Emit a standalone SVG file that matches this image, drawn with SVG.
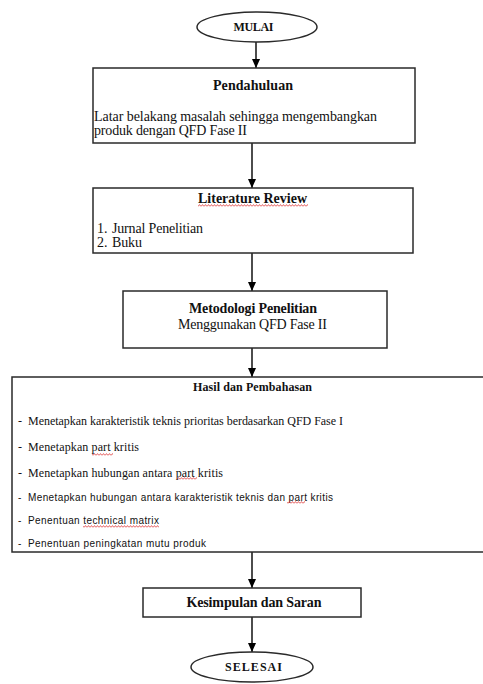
<svg xmlns="http://www.w3.org/2000/svg" width="483" height="684" viewBox="0 0 483 684">
<style>
.box{fill:#fff;stroke:#2a2a2a;stroke-width:1.5}
.t{font-family:"Liberation Serif","Times New Roman",serif;fill:#111}
.s{font-family:"Liberation Sans",Arial,sans-serif;fill:#111}
.b{font-weight:bold}
.c{text-anchor:middle}
.conn{stroke:#000;stroke-width:1.4;fill:none;marker-end:url(#ah)}
</style>
<defs>
<marker id="ah" viewBox="0 0 10 9" markerUnits="userSpaceOnUse" markerWidth="9" markerHeight="9" refX="10" refY="4.5" orient="auto">
<path d="M0,0 L10,4.5 L0,9 z" fill="#000"/>
</marker>
<pattern id="wavy" patternUnits="userSpaceOnUse" x="0" y="0" width="3" height="3">
<path d="M0,2.5 L1.5,0.6 L3,2.5" fill="none" stroke="#d81e1e" stroke-width="0.7"/>
</pattern>
</defs>
<rect width="483" height="684" fill="#fff"/>

<g id="connectors">
<line class="conn" x1="256" y1="42" x2="256" y2="68"/>
<line class="conn" x1="252" y1="143" x2="252" y2="188"/>
<line class="conn" x1="252" y1="253" x2="252" y2="291"/>
<line class="conn" x1="252" y1="348" x2="252" y2="377"/>
<line class="conn" x1="252" y1="552" x2="252" y2="588"/>
<line class="conn" x1="252" y1="617" x2="252" y2="652"/>
</g>

<g id="mulai">
<ellipse cx="257" cy="27" rx="60" ry="15" class="box"/>
<text x="253.5" y="31" class="t b c" font-size="12" textLength="40">MULAI</text>
</g>

<g id="pendahuluan">
<rect x="93" y="68" width="322" height="75" class="box"/>
<text x="253" y="90" class="t b c" font-size="14" textLength="80">Pendahuluan</text>
<text x="94" y="121" class="t" font-size="14" textLength="283">Latar belakang masalah sehingga mengembangkan</text>
<text x="94" y="135" class="t" font-size="14" textLength="153">produk dengan QFD Fase II</text>
</g>

<g id="literature">
<rect x="93" y="188" width="320" height="65" class="box"/>
<text x="252.5" y="203" class="t b c" font-size="14" textLength="109">Literature Review</text>
<rect x="198" y="204" width="110" height="3" fill="url(#wavy)"/>
<text class="t" font-size="14" y="233"><tspan x="97">1.</tspan><tspan x="112" textLength="91">Jurnal Penelitian</tspan></text>
<text class="t" font-size="14" y="247"><tspan x="97">2.</tspan><tspan x="112" textLength="30">Buku</tspan></text>
</g>

<g id="metodologi">
<rect x="123" y="291" width="264" height="57" class="box"/>
<text x="253" y="313" class="t b c" font-size="14" textLength="128">Metodologi Penelitian</text>
<text x="252.5" y="329" class="t c" font-size="14" textLength="149">Menggunakan QFD Fase II</text>
</g>

<g id="hasil">
<rect x="12" y="377" width="480" height="175" class="box"/>
<text x="252.5" y="391" class="t b c" font-size="12" textLength="119">Hasil dan Pembahasan</text>
<text x="18" y="425" class="t" font-size="12">-</text>
<text x="28" y="425" class="t" font-size="12" textLength="315">Menetapkan karakteristik teknis prioritas berdasarkan QFD Fase I</text>
<text x="18" y="451" class="t" font-size="12">-</text>
<text x="28" y="451" class="t" font-size="12" textLength="111">Menetapkan part kritis</text>
<rect x="92" y="453" width="21" height="3" fill="url(#wavy)"/>
<text x="18" y="477" class="t" font-size="12">-</text>
<text x="28" y="477" class="t" font-size="12" textLength="195">Menetapkan hubungan antara part kritis</text>
<rect x="177" y="477" width="20" height="3" fill="url(#wavy)"/>
<text x="18" y="501" class="s" font-size="10">-</text>
<text x="28" y="501" class="s" font-size="10" textLength="305">Menetapkan hubungan antara karakteristik teknis dan part kritis</text>
<rect x="287" y="501" width="18" height="3" fill="url(#wavy)"/>
<text x="18" y="524" class="s" font-size="10">-</text>
<text x="28" y="524" class="s" font-size="10" textLength="131">Penentuan technical matrix</text>
<rect x="83" y="525" width="76" height="3" fill="url(#wavy)"/>
<text x="18" y="547" class="s" font-size="10">-</text>
<text x="28" y="547" class="s" font-size="10" textLength="178">Penentuan peningkatan mutu produk</text>
</g>

<g id="kesimpulan">
<rect x="143" y="588" width="218" height="29" class="box"/>
<text x="254" y="607" class="t b c" font-size="14" textLength="135">Kesimpulan dan Saran</text>
</g>

<g id="selesai">
<ellipse cx="252" cy="667" rx="61" ry="15" class="box"/>
<text x="253.5" y="671" class="t b c" font-size="12" textLength="57">SELESAI</text>
</g>
</svg>
